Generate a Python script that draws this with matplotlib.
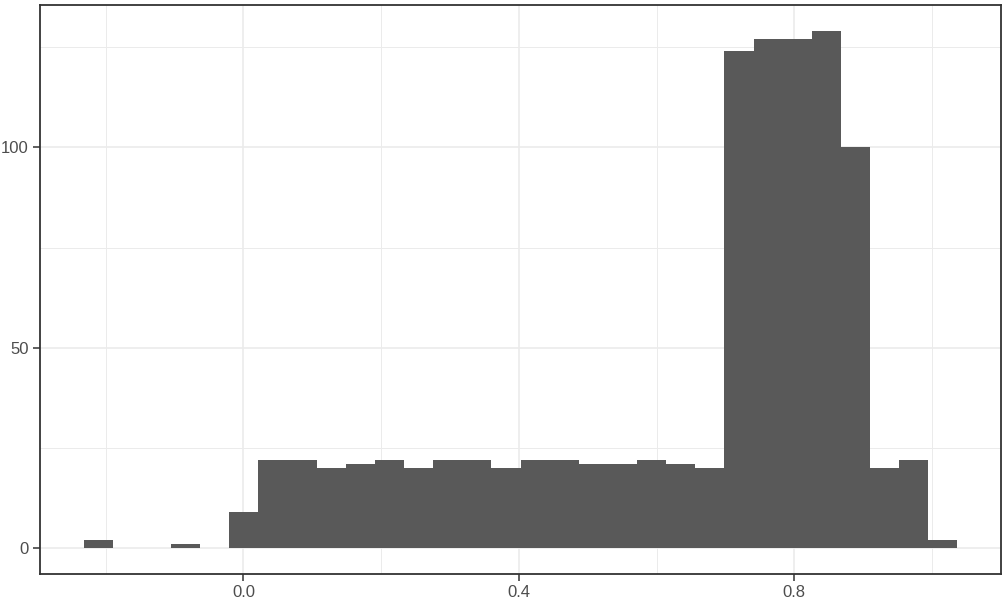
"""
Histogram in the style of ggplot2 theme_bw.
"""

import matplotlib.pyplot as plt
import numpy as np

# Counts per bin (30 bins)
counts = [2, 0, 0, 1, 0, 9, 22, 22, 20, 21,
          22, 20, 22, 22, 20, 22, 22, 21, 21, 22,
          21, 20, 124, 127, 127, 129, 100, 20, 22, 2]
bin_start = -0.232
bin_width = 0.0423

x_ticks = [0.0, 0.4, 0.8]
x_tick_labels = ["0.0", "0.4", "0.8"]
y_ticks = [0, 50, 100]
y_tick_labels = ["0", "50", "100"]


def main():
    plt.rcParams["font.family"] = ["Liberation Sans", "DejaVu Sans"]

    edges = bin_start + bin_width * np.arange(len(counts) + 1)

    fig = plt.figure(figsize=(10.08, 6.07), dpi=100)
    ax = fig.add_axes([0.0397, 0.0549, 0.9534, 0.9361])

    ax.bar(edges[:-1], counts, width=bin_width, align="edge",
           color="#595959", linewidth=0, zorder=3)

    # ggplot2 default 5% expansion
    lo, hi = edges[0], edges[-1]
    pad = (hi - lo) * 0.05
    ax.set_xlim(lo - pad, hi + pad)
    ymax = max(counts)
    ax.set_ylim(-ymax * 0.05, ymax * 1.05)

    ax.set_xticks(x_ticks)
    ax.set_xticklabels(x_tick_labels)
    ax.set_yticks(y_ticks)
    ax.set_yticklabels(y_tick_labels)
    ax.set_xticks([-0.2, 0.2, 0.6, 1.0], minor=True)
    ax.set_yticks([25, 75, 125], minor=True)

    ax.grid(True, which="major", color="#EBEBEB", linewidth=1.2, zorder=0)
    ax.grid(True, which="minor", color="#EBEBEB", linewidth=0.7, zorder=0)
    ax.set_axisbelow(True)

    ax.tick_params(which="major", length=5, width=1.1, color="#333333",
                   labelcolor="#4D4D4D", labelsize=12, pad=3)
    ax.tick_params(which="minor", length=0)

    for spine in ax.spines.values():
        spine.set_color("#333333")
        spine.set_linewidth(1.3)

    fig.savefig("out.png", dpi=100)
    plt.close("all")


if __name__ == "__main__":
    main()
